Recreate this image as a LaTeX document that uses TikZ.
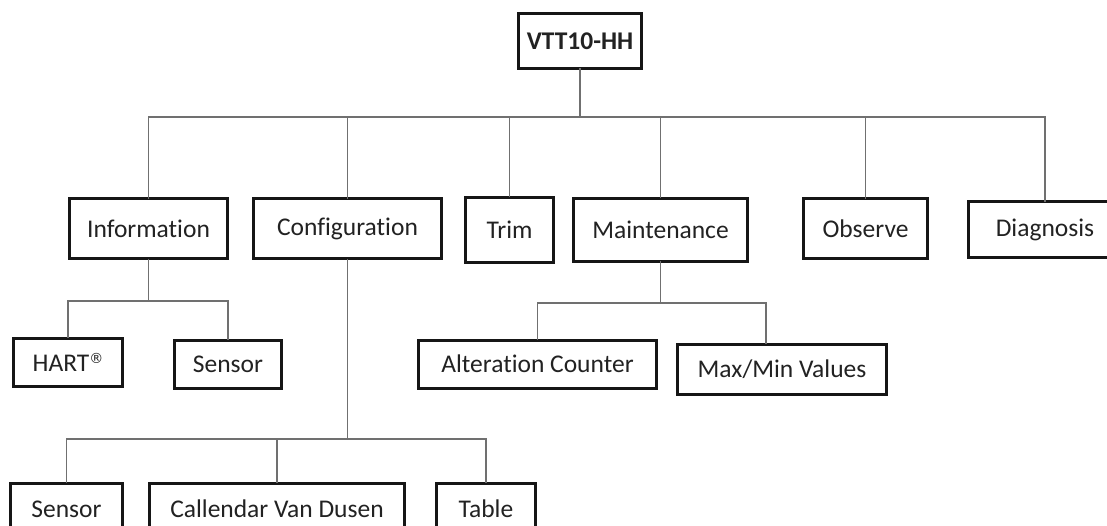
\documentclass[tikz,border=0pt]{standalone}
\usepackage{fontspec}
\setmainfont[RawFeature={-liga}]{Carlito}
\newfontfamily\regfont{DejaVu Sans}
\usepackage{tikz}

\definecolor{boxline}{RGB}{22,22,22}
\definecolor{linkline}{RGB}{112,112,112}
\definecolor{boxtext}{RGB}{34,34,34}

\begin{document}
\begin{tikzpicture}[x=1pt, y=-1pt,
  every node/.style={inner sep=0pt, outer sep=0pt},
  menu/.style={draw=boxline, line width=3pt, fill=white, text=boxtext,
    font=\fontsize{25.5}{30}\selectfont, minimum height=60pt},
  sub/.style={menu, minimum height=48pt},
  link/.style={draw=linkline, line width=1.6pt}]
\useasboundingbox (0,0) rectangle (1107,526);
\clip (0,0) rectangle (1107,526);

\node[menu, minimum width=123pt, minimum height=55pt, font=\fontsize{25.5}{30}\selectfont\bfseries] (root) at (580,41) {VTT10-HH};

\node[menu, minimum width=158pt] (info) at (148.5,229) {Information};
\node[menu, minimum width=188pt] (conf) at (347.5,229) {Configuration};
\node[menu, minimum width=88pt, minimum height=65pt] (trim) at (509.5,230) {Trim};
\node[menu, minimum width=174pt, minimum height=63pt] (maint) at (660.5,230) {Maintenance};
\node[menu, minimum width=124pt] (obs) at (865.5,229) {Observe};
\node[menu, minimum width=153pt, minimum height=56pt] (diag) at (1045,230) {Diagnosis};

\node[sub, minimum width=109pt] (hart) at (68,362) {HART\raisebox{8pt}{\regfont\fontsize{14}{14}\selectfont ®}};
\node[sub, minimum width=107pt] (isens) at (228,364) {Sensor};

\node[sub, minimum width=238pt] (alt) at (537.5,364) {Alteration Counter};
\node[sub, minimum width=209pt, minimum height=50pt] (mm) at (782,369) {Max/Min Values};

\node[sub, minimum width=112pt, minimum height=52pt] (csens) at (66.5,509) {Sensor};
\node[sub, minimum width=255pt, minimum height=52pt] (cvd) at (277,509) {Callendar Van Dusen};
\node[sub, minimum width=99pt, minimum height=52pt] (table) at (486,509) {Table};

\coordinate (bus) at (0,117);
\coordinate (infobus) at (0,301);
\coordinate (maintbus) at (0,303);
\coordinate (confbus) at (0,439);
\coordinate (mmtop) at ([xshift=-16pt]mm.north);

\draw[link] (root.south) -- (root.south |- bus);
\draw[link] (info.north) |- (bus -| diag.north) -- (diag.north);
\foreach \n in {conf,trim,maint,obs}
  \draw[link] (\n.north) -- (\n.north |- bus);

\draw[link] (info.south) -- (info.south |- infobus);
\draw[link] (hart.north) |- (infobus -| isens.north) -- (isens.north);

\draw[link] (maint.south) -- (maint.south |- maintbus);
\draw[link] (alt.north) |- (maintbus -| mmtop) -- (mmtop);

\draw[link] (conf.south) -- (conf.south |- confbus);
\draw[link] (csens.north) |- (confbus -| table.north) -- (table.north);
\draw[link] (cvd.north) -- (cvd.north |- confbus);
\end{tikzpicture}
\end{document}
